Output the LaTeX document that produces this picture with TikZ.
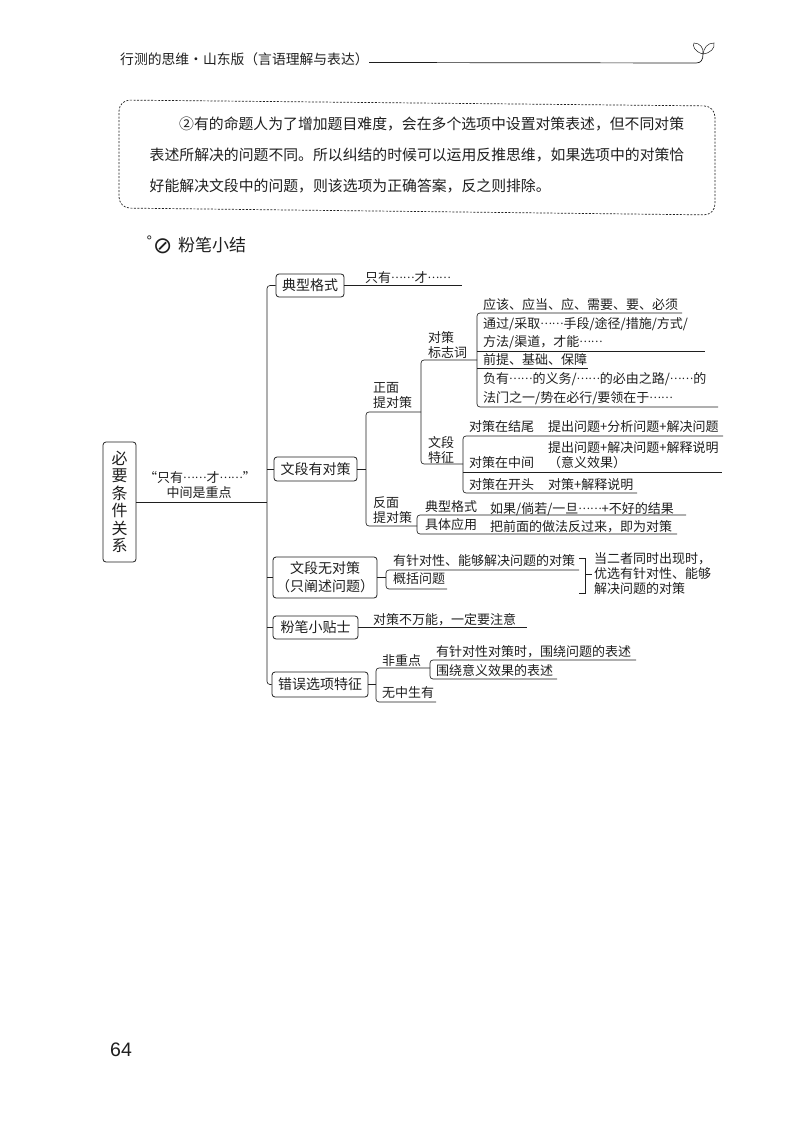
\documentclass[tikz,border=0pt]{standalone}
\usepackage{fontspec}
\setmainfont{Noto Sans CJK SC}
\newfontfamily\symf{DejaVu Sans}
\newfontfamily\numf{Liberation Sans}
\definecolor{ink}{gray}{0.12}
\newcommand{\dd}{\raisebox{.32em}{\fontsize{11}{13}\selectfont ……}}
\tikzset{
  txt/.style={inner sep=0pt,anchor=west,text=ink,font=\fontsize{13}{15}\selectfont},
  para/.style={txt,font=\fontsize{14.85}{17}\selectfont},
  hd/.style={txt,font=\fontsize{13.8}{16}\selectfont},
  cbox/.style={draw=ink,line width=.8pt,rounded corners=3pt,inner sep=0pt,align=center,text=ink,font=\fontsize{14}{18}\selectfont},
  conn/.style={draw=ink,line width=.65pt,rounded corners=3pt},
}
\newcommand{\T}[4]{\node[txt] (#1) at (#2,#3) {#4};}
\begin{document}
\begin{tikzpicture}[x=1pt,y=-1pt]
\fill[white,use as bounding box] (0,0) rectangle (800,1147);
% header
\node[hd] (head) at (120,59) {行测的思维·山东版（言语理解与表达）};
\coordinate (hl) at (369,62.5);
\coordinate (sp) at (703,54);
\draw[ink,line width=.7pt] (hl) -- (696,63) .. controls (701,63) and (703,60) .. (sp);
\draw[ink,line width=.5pt] (sp) .. controls (695,52) and (692,46) .. (694,43) .. controls (700,43) and (704,48) .. (sp);
\draw[ink,line width=.5pt] (sp) .. controls (704,48) and (707,43) .. (714,43) .. controls (715,48) and (711,53) .. (sp);
% dashed panel
\draw[ink,line width=.7pt,dash pattern=on 2pt off 1.5pt,rounded corners=11pt]
  (119,100) -- (715,106) -- (715,215) -- (119,208) -- cycle;
\node[para] (p1) at (179,124) {②有的命题人为了增加题目难度，会在多个选项中设置对策表述，但不同对策};
\node[para] (p2) at (149.5,155) {表述所解决的问题不同。所以纠结的时候可以运用反推思维，如果选项中的对策恰};
\node[para] (p3) at (149.5,186) {好能解决文段中的问题，则该选项为正确答案，反之则排除。};
% section title
\node[txt,font=\symf\fontsize{13}{15}\selectfont] (deg) at (146,241) {°};
\node[txt,font=\symf\fontsize{23}{25}\selectfont] (oslash) at (153,246) {⊘};
\node[txt,font=\fontsize{17}{20}\selectfont] (title) at (178,245) {粉笔小结};
% boxes
\node[cbox,minimum width=33pt,minimum height=120pt,font=\fontsize{16}{17.5}\selectfont] (root) at (119.5,502) {必\\要\\条\\件\\关\\系};
\node[cbox,minimum width=68pt,minimum height=23pt] (b1) at (310,285.5) {典型格式};
\node[cbox,minimum width=83pt,minimum height=24pt] (b2) at (315.5,469) {文段有对策};
\node[cbox,minimum width=104pt,minimum height=41pt] (b3) at (325,577.5) {文段无对策\\（只阐述问题）};
\node[cbox,minimum width=85pt,minimum height=23pt] (b4) at (315.5,627.5) {粉笔小贴士};
\node[cbox,minimum width=96pt,minimum height=25pt] (b5) at (320,684.5) {错误选项特征};
% trunk
\coordinate (trunk) at (267,502);
\draw[conn] (b1.west) -| (trunk) |- (b5.west);
\draw[conn] (root.east) -- (trunk);
\draw[conn] (b2.west) -- (b2.west -| trunk);
\draw[conn] (b3.west) -- (b3.west -| trunk);
\draw[conn] (b4.west) -- (b4.west -| trunk);
\node[txt,anchor=center] (q1) at (200,478) {“只有\dd 才\dd ”};
\node[txt,anchor=center] (q2) at (199,493) {中间是重点};
% b1
\T{t1}{365}{278}{只有\dd 才\dd}
\coordinate (e1) at (462,287);
\draw[conn] (b1.east) -- (b1.east -| e1);
% b2 fork
\coordinate (f2) at (366,469);
\coordinate (zm) at (421,412);
\coordinate (fm) at (417,526);
\draw[conn] (b2.east) -- (f2);
\draw[conn] (zm) -| (f2) |- (fm);
\node[txt,align=left] (zm1) at (373,395) {正面\\提对策};
\node[txt,align=left] (fm1) at (373,510) {反面\\提对策};
% zheng mian fork
\coordinate (f3) at (421,412);
\coordinate (bz) at (477,360);
\coordinate (wd) at (463,464);
\draw[conn] (bz) -| (f3) |- (wd);
\node[txt,align=left] (bz1) at (428,345) {对策\\标志词};
\node[txt,align=left] (wd1) at (428,450) {文段\\特征};
% marker words bracket
\coordinate (a1) at (682,313);
\coordinate (a2) at (705,351);
\coordinate (a3) at (588,368);
\coordinate (a4) at (718,407);
\draw[conn] (a1) -| (bz) |- (a4);
\draw[conn] (bz |- a2) -- (a2);
\draw[conn] (bz |- a3) -- (a3);
\T{m1}{483}{305}{应该、应当、应、需要、要、必须}
\T{m2}{483}{324}{通过/采取\dd 手段/途径/措施/方式/}
\T{m3}{483}{342}{方法/渠道，才能\dd}
\T{m4}{483}{360}{前提、基础、保障}
\T{m5}{483}{379}{负有\dd 的义务/\dd 的必由之路/\dd 的}
\T{m6}{483}{398}{法门之一/势在必行/要领在于\dd}
% passage features bracket
\coordinate (c1) at (723,436);
\coordinate (c2) at (722,472);
\coordinate (c3) at (637,493);
\draw[conn] (c1) -| (wd) |- (c3);
\draw[conn] (wd |- c2) -- (c2);
\T{w1}{469}{427}{对策在结尾}
\T{w2}{548}{427}{提出问题+分析问题+解决问题}
\T{w3}{548}{448}{提出问题+解决问题+解释说明}
\T{w4}{469}{463}{对策在中间}
\T{w5}{548}{463}{（意义效果）}
\T{w6}{469}{485}{对策在开头}
\T{w7}{548}{485}{对策+解释说明}
% negative
\coordinate (d1) at (686,515);
\coordinate (d2) at (677,534);
\draw[conn] (d1) -| (fm) |- (d2);
\T{n1}{425}{507}{典型格式}
\T{n2}{490}{509}{如果/倘若/一旦\dd +不好的结果}
\T{n3}{425}{525}{具体应用}
\T{n4}{490}{527}{把前面的做法反过来，即为对策}
% b3
\coordinate (g) at (386,578);
\coordinate (g1) at (579,570);
\coordinate (g2) at (447,589);
\draw[conn] (b3.east) -- (b3.east -| g);
\draw[conn] (g1) -| (g) |- (g2);
\T{h1}{393}{561}{有针对性、能够解决问题的对策}
\T{h2}{393}{579}{概括问题}
\coordinate (k1) at (579,558);
\coordinate (k2) at (579,593);
\coordinate (k3) at (592,574);
\draw[ink,line width=.65pt] (k1) -- (585,558) -- (585,593) -- (k2);
\draw[ink,line width=.65pt] (585,574) -- (k3);
\T{r1}{594}{559}{当二者同时出现时，}
\T{r2}{594}{574}{优选有针对性、能够}
\T{r3}{594}{589}{解决问题的对策}
% b4
\coordinate (e4) at (527,627.5);
\draw[conn] (b4.east) -- (e4);
\T{t4}{373}{620}{对策不万能，一定要注意}
% b5
\coordinate (l) at (376,684.5);
\coordinate (l1) at (430,668);
\coordinate (l2) at (436,702);
\draw[conn] (b5.east) -- (l);
\draw[conn] (l1) -| (l) |- (l2);
\T{u1}{382}{661}{非重点}
\T{u2}{382}{693}{无中生有}
\coordinate (o1) at (636,660);
\coordinate (o2) at (557,679);
\draw[conn] (o1) -| (l1) |- (o2);
\T{v1}{436}{652}{有针对性对策时，围绕问题的表述}
\T{v2}{436}{671}{围绕意义效果的表述}
% page number
\node[txt,font=\numf\fontsize{19.5}{22}\selectfont] (pg) at (110,1050) {64};
\end{tikzpicture}
\end{document}
